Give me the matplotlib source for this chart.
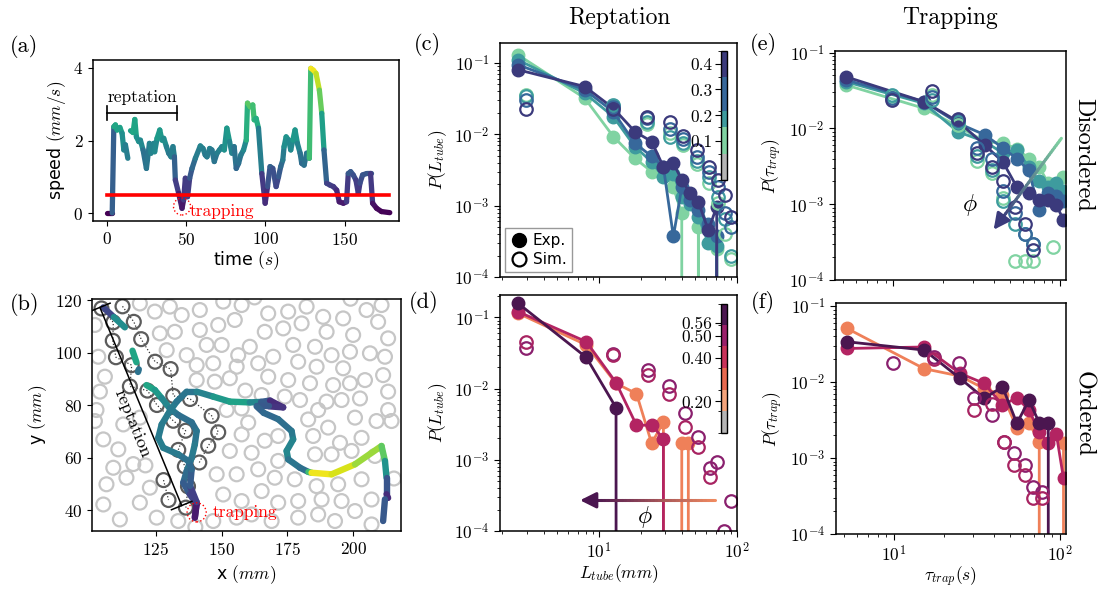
import numpy as np
import matplotlib
matplotlib.use('Agg')
import matplotlib.pyplot as plt
from matplotlib.collections import LineCollection
from matplotlib.colors import ListedColormap, BoundaryNorm, Normalize, to_rgba
import matplotlib.colorbar as mcolorbar
from matplotlib.lines import Line2D

plt.rcParams.update({
    'font.family': 'serif', 'font.serif': ['cmr10'], 'mathtext.fontset': 'cm',
    'axes.formatter.use_mathtext': True, 'font.size': 12.5, 'axes.linewidth': 1.1,
})

# ---------------- panel (a): speed vs time ----------------
time_a = [0, 3.6, 4.6, 5.6, 6.7, 8.4, 9.8, 10.9, 11.9, 13.4, 14.2, 15.1, 16.7, 17.8, 18.8, 20.3, 21.3, 23, 25.1, 27,
          28, 29.7, 30.3, 31.8, 33.5, 34.9, 36, 37.7, 39.1, 40.6, 41.8, 42.7, 43.3, 45.4, 47.5, 48.5, 49.6, 51, 52.3,
          53.8, 55.9, 59, 60.7, 62.1, 63.2, 64.9, 66.3, 67.8, 69.5, 71.1, 72.6, 74.1, 75.7, 77.4, 78.9, 80.3, 81.6,
          83.1, 84.5, 86.2, 87.9, 88.7, 90.4, 92, 92.9, 94.1, 95.6, 97.7, 99.8, 101.3, 102.9, 104.6, 106.7, 108.2,
          109.6, 110.9, 111.7, 113, 114.6, 115.9, 117.2, 118.6, 120.1, 121.8, 122.8, 124.3, 125.9, 127.6, 128.5,
          130.1, 131.8, 133.9, 135.4, 136.8, 138.5, 140.6, 142.7, 144.8, 146.4, 149, 151, 152.1, 153.6, 155.2,
          156.9, 158.4, 159.4, 161.1, 163.6, 166.1, 167.4, 169.9, 173, 178.2]
speed_a = [0, 0, 2.38, 2.43, 2.29, 2.36, 2.2, 1.74, 1.88, 1.51, np.nan, 2.27, 2.22, 2.58, 2.1, 1.97, 2.01, 1.74, 1.23,
           1.92, 1.65, 1.92, 1.69, 2.06, 2.29, 2.01, 2.06, 1.83, 1.65, 1.55, 1.83, 1.55, 0.91, 0.54, 0.13, 0.36, 0.96,
           0.45, 0.96, 1.23, 1.51, 1.85, 1.78, 1.6, 1.55, 1.78, 1.74, 1.42, 1.65, 1.74, 1.83, 1.74, 2.34, 1.97, 1.65,
           1.83, 1.23, 1.37, 1.6, 1.74, 2.01, 3.03, 2.93, 2.98, 2.57, 2.61, 2.34, 1.09, 0.27, 0.73, 1.28, 1.23, 0.73,
           1.0, 1.28, 1.46, 1.83, 2.1, 2.01, 1.74, 2.01, 2.29, 1.92, 1.65, 1.37, 1.32, 1.65, 1.51, 3.99, 3.94, 3.85,
           3.39, 2.75, 1.74, 0.82, 0.77, 0.73, 0.63, 0.31, 0.27, 0.31, 1.09, 1.14, 1.05, 0.91, 0.54, 0.82, 1.05,
           1.09, 1.09, 0.27, 0.13, 0.04, 0.01]
threshold_speed = 0.5
reptation_span = [0.4, 44.4]
trap_a = (47.5, 0.18)

# ---------------- panel (b): trajectory ----------------
traj_x = [105, 109, 113.2, np.nan, 116.1, 117.6, np.nan, 118.5, 118.2, np.nan,
          121.4, 124.6, 127.2, 130.3, 133.5, 138.6, 140.5, 139.8, 138.6, 136.7, 135.4, 137.9, 140.5, 139.8,
          140.5, 138, 138.6, 137.3, 133.5, 127.8, 125.9, 127.2, 130.3, 132.9, 136.7, 140.5, 146.8, 153.1, 160.7,
          165, 168.4, 173.4, 168, 163.3, 166, 171.5, 176.6, 177.2, 174.7, 175.3, 179.8, 183, 184.2, 191.8, 200.7,
          210.8, 212.1, 212.7, 212.7, 213.3, np.nan, 212.1, 211.4]
traj_y = [117.2, 113.5, 109.6, np.nan, 100.7, 96.3, np.nan, 93.6, 92.6, np.nan,
          87.6, 85.7, 82.6, 78.7, 76.2, 73.4, 70.1, 65, 59.9, 54.8, 50.4, 46, 42.2, 37.1,
          43, 49.2, 55.5, 58.7, 61.2, 63.7, 67.5, 72.6, 77.7, 81.3, 85.1, 85.1, 83.2, 81.3, 81.0,
          81.2, 81.7, 79.1, 79.5, 79.5, 77, 74.6, 70.1, 66.9, 62.5, 59.3, 56.1, 54.5, 54.2, 53.6, 57.4,
          64.4, 58.7, 52.3, 46.0, 44.6, np.nan, 44.1, 35.8]
traj_v = [0.2, 1.5, 2.4, np.nan, 2.5, 2.2, np.nan, 1.5, 1.5, np.nan,
          2.4, 2.3, 2.0, 1.7, 1.5, 1.4, 1.5, 1.6, 1.7, 1.5, 1.3, 1.0, 0.6, 0.1,
          0.5, 1.0, 1.3, 1.4, 1.6, 1.7, 1.7, 1.6, 1.7, 1.6, 1.5, 1.6, 1.9, 2.4, 2.2,
          1.5, 0.8, 0.2, 1.0, 1.2, 1.3, 1.4, 1.5, 1.7, 1.9, 1.8, 1.3, 1.6, 3.9, 3.9, 3.6,
          3.2, 2.8, 1.3, 0.8, 0.2, np.nan, 1.1, 1.1]

tube_left_x = [104.3, 108.8, 108.6, 109.8, 115.8, 115.1, 121.8, 125.4, 131.6, 136.3, 133.5, 136.0, 137.2, 136.4]
tube_left_y = [116.8, 111.5, 104.5, 98.2, 95.2, 87.1, 85.5, 80.0, 74.0, 70.2, 62.9, 56.6, 49.0, 40.9]
tube_right_x = [112.3, 116.6, 119.4, 124.7, 130.6, 131.6, 138.0, 146.2, 148.7, 144.9, 141.5]
tube_right_y = [117.6, 111.7, 105.1, 96.5, 93.7, 83.5, 82.3, 75.9, 69.6, 64.5, 58.1]
tube_extra_x = [127.9, 129.8]
tube_extra_y = [51.4, 43.8]

obst_x = [118.9, 124.6, 130.3, 134.8, 141.7, 150.6, 157.6, 155.0, 148.7, 141.7, 126.5, 132.2, 129.1, 136.7, 144.3,
          150.0, 156.3, 140.5, 146.8, 155.7, 105.6, 140.5, 147.4, 153.1, 103.7, 102.4, 151.9, 157.6, 103.1, 101.8,
          167.7, 175.3, 182.3, 188.6, 196.2, 205.1, 210.8, 166.4, 173.4, 180.4, 189.9, 200.0, 209.5, 213.3, 160.7,
          169.6, 177.2, 185.5, 191.8, 198.8, 206.4, 212.1, 163.9, 179.1, 186.1, 196.2, 167.7, 175.3, 183.6, 192.4,
          198.8, 204.5, 211.4, 165.2, 174.0, 179.8, 189.9, 195.6, 202.6, 213.3, 186.7, 213.3,
          182.9, 190.5, 200.7, 214.6, 208.9, 160.1, 171.5, 184.8, 195.0, 203.2, 185.5, 191.8, 199.4, 208.3, 161.4,
          166.4, 171.5, 163.9, 170.2, 177.8, 186.1, 194.3, 203.2, 215.5, 165.2, 179.1, 188.0, 195.6, 207.0, 171.5,
          179.1, 186.7, 193.1, 200.7, 207.0, 169.0, 161.4,
          105.0, 110.7, 108.8, 113.8, 106.2, 122.7, 105.0, 118.9, 111.3, 125.3, 133.5, 148.1, 153.1, 155.7, 150.6,
          157.6, 155.7, 146.8, 157.6, 118.9, 101.8, 112.6, 116.4, 159.0, 162.5, 199.0, 121.0, 140.0]
obst_y = [118.7, 115.6, 117.5, 114.3, 116.2, 119.4, 118.1, 112.4, 110.5, 108.6, 107.3, 107.9, 100.9, 99.0, 102.9,
          102.9, 99.0, 95.2, 95.9, 94.6, 90.8, 89.5, 88.9, 90.2, 85.1, 78.1, 78.1, 78.7, 98.4, 110.5,
          114.9, 115.6, 117.5, 113.6, 113.0, 116.2, 118.1, 107.9, 109.2, 111.1, 107.9, 106.7, 111.7, 105.4, 102.2,
          98.4, 102.9, 102.2, 99.0, 100.3, 99.7, 98.4, 95.9, 96.5, 94.6, 94.0, 90.8, 89.5, 88.3, 87.6,
          88.3, 89.5, 91.4, 83.8, 83.2, 81.9, 81.3, 81.9, 82.5, 85.1, 78.1, 78.1,
          74.5, 71.4, 75.2, 73.9, 73.9, 73.3, 68.2, 68.2, 65.6, 67.5, 61.2, 61.2, 62.5, 60.6, 61.8,
          66.4, 58.7, 55.5, 52.3, 51.7, 49.1, 49.8, 51.7, 52.0, 47.2, 43.4, 44.0, 43.4, 44.0, 42.8,
          37.1, 38.3, 35.8, 39.6, 34.5, 35.8, 38.3,
          66.9, 63.1, 56.1, 52.3, 49.8, 48.5, 42.1, 42.8, 36.4, 37.1, 35.8, 53.6, 62.5, 53.6, 45.9,
          43.4, 37.1, 35.8, 68.8, 75.2, 73.9, 72.6, 57.5, 85.5, 121.0, 120.5, 57.0, 33.5]
trap_b = (140.5, 39.1)
reptation_line_x = [103.7, 134.8]
reptation_line_y = [117.2, 41.7]

# ---------------- panel (c): L_tube, disordered ----------------
phi_dis = [0.1, 0.2, 0.3, 0.4]
col_dis = ['#80d3a2', '#3e9b9e', '#37689b', '#3b3a7c']
L_exp_c = [2.6, 7.9, 12.7, 18.2, 24.1, 29.3, 34.6, 39.8, 45.6, 52.5, 62, 71.3, 86.5]
Pc_exp_01 = [0.129, 0.032, 0.0093, 0.0046, 0.003, 0.0033, 0.0018, 0.00078, 0, 0.0005, 0, 0.00025, 0]
Pc_exp_02 = [0.11, 0.0376, 0.0177, 0.0067, 0.0041, 0.0025, 0.0028, 0.00133, 0.00107, 0.0007, 0.0003, 0.00027, 0]
Pc_exp_03 = [0.094, 0.042, 0.0207, 0.0075, 0.0049, 0.0035, 0.00037, 0.0018, 0.0012, 0.00087, 0.00056, 0.00037, 0]
Pc_exp_04 = [0.080, 0.0466, 0.0232, 0.0109, 0.0079, 0.0035, 0.0039, 0.0023, 0.0015, 0.00113, 0.00045, 0.00097, 0]
L_sim_c = [2.96, 12.7, 22.2, 32.7, 40.8, 51, 63, 73, 82, 91]
Pc_sim_01 = [0.035, 0.025, 0.014, 0.0105, 0.007, 0.0038, 0.0021, 0.0011, 0.0004, 0.00018]
Pc_sim_02 = [0.034, 0.026, 0.015, 0.0093, 0.0075, 0.0042, 0.0025, 0.0013, 0.00065, 0.0002]
Pc_sim_03 = [0.030, 0.024, 0.0168, 0.012, 0.0085, 0.0048, 0.003, 0.0018, 0.0008, 0.0005]
Pc_sim_04 = [0.0224, 0.0224, 0.0173, 0.015, 0.0095, 0.006, 0.0035, 0.0023, 0.0014, 0.0007]

# ---------------- panel (d): L_tube, ordered ----------------
col_ord_exp = ['#ef8059', '#b32462', '#4b1650']
L_exp_d = [2.6, 8.1, 13.3, 18.7, 24.1, 29.3, 34.6, 39.8, 44.4, 50.0]
Pd_exp_040 = [0.114, 0.041, 0.0118, 0.0085, 0.0017, 0.0034, 0, 0.0017, 0.0017, 0]
Pd_exp_050 = [0.12, 0.0455, 0.0121, 0.00306, 0.00306, 0.00199, 0]
Pd_exp_056 = [0.157, 0.0274, 0.0054, 0]
col_ord_sim = ['#8a206e', '#a82462']
L_sim_d = [2.96, 12.7, 22.7, 32.1, 42, 52.5, 63.7, 71.3, 81, 91]
Pd_sim_a = [0.0366, 0.031, 0.018, 0.0108, 0.0045, 0.0021, 0.00076, 0.00093, 0.0001, 0.00026]
Pd_sim_b = [0.0455, 0.030, 0.0155, 0.0085, 0.0029, 0.0015, 0.00058]

# ---------------- panel (e): tau_trap, disordered ----------------
tau_exp_e = [5.2, 15.3, 24.5, 35.5, 45.5, 55, 65, 75, 85, 95, 105]
Pe_exp_01 = [0.0374, 0.0184, 0.0106, 0.0067, 0.0064, 0.0054, 0.004, 0.0031, 0.0019, 0.0017, 0.0023]
Pe_exp_02 = [0.0413, 0.0214, 0.009, 0.0067, 0.0047, 0.0052, 0.0031, 0.002, 0.0017, 0.0019, 0.0015]
Pe_exp_03 = [0.0436, 0.0225, 0.0117, 0.0082, 0.0055, 0.004, 0.0028, 0.00083, 0.0014, 0.0013, 0.0011]
Pe_exp_04 = [0.048, 0.0225, 0.0123, 0.006, 0.0036, 0.0017, 0.0014, 0.00114, 0.00114, 0.00098, 0.00062]
tau_sim_e = [9.8, 17.0, 24.5, 31.6, 38.9, 45.7, 53.7, 61.7, 69.2, 91]
Pe_sim_01 = [0.027, 0.028, 0.011, 0.0037, 0.0026, 0.0012, 0.00018, 0.00018, 0.00018, 0.00027]
Pe_sim_02 = [0.0276, 0.024, 0.012, 0.0043, 0.0028, 0.0011, 0.00055, 0.0004, 0.0003, np.nan]
Pe_sim_03 = [0.025, 0.026, 0.013, 0.0055, 0.004, 0.0015, 0.00076, 0.0004, 0.0003, np.nan]
Pe_sim_04 = [0.024, 0.031, 0.0135, 0.0047, 0.0031, 0.002, 0.00093, 0.00055, 0.00025, np.nan]

# ---------------- panel (f): tau_trap, ordered ----------------
tau_exp_f = [5.2, 15.2, 25, 35, 45, 55, 65, 75, 85, 95, 105]
Pf_exp_040 = [0.051, 0.015, 0.012, 0.0082, 0.0068, 0.0025, 0.0029, 0.00164, 0, 0, 0.0016]
Pf_exp_050 = [0.0277, 0.029, 0.013, 0.0096, 0.005, 0.0062, 0.0043, 0.0022, 0.0016, 0.0021, 0.00054]
Pf_exp_056 = [0.034, 0.0264, 0.0112, 0.0061, 0.0087, 0.00286, 0.0058, 0.0029, 0.0029, 0]
tau_sim_f_a = [9.8, 17.4, 24.5, 30.2, 38.9, 45.7, 52.5, 61.7, 69.2, 77.6]
Pf_sim_a = [0.0176, 0.0215, 0.0176, 0.0061, 0.0037, 0.00164, 0.00115, 0.0008, 0.00042, 0.00036]
tau_sim_f_b = [17.4, 30.2, 38.9, 45.7, 52.5, 61.7, 69.2, 77.6]
Pf_sim_b = [0.02, 0.0043, 0.0052, 0.00164, 0.0008, 0.0006, 0.0003, 0.0003]

# colorbars
cb_colors_c = ['#b4b4b4', '#80d3a2', '#3e9b9e', '#37689b', '#3b3a7c']
cb_bounds_c = [-0.05, 0.05, 0.155, 0.215, 0.35, 0.45]
cb_ticks_c = [0.1, 0.2, 0.3, 0.4]
cb_colors_d = ['#b4b4b4', '#f4a47b', '#e8694f', '#c9325a', '#9a1f6a', '#4b1650']
cb_bounds_d = [0.054, 0.154, 0.254, 0.353, 0.453, 0.552, 0.649]
cb_ticks_d = [0.20, 0.40, 0.50, 0.56]

# ======================================================
W, H = 1098, 591
fig = plt.figure(figsize=(W / 100, H / 100), dpi=100)


def box(l, t, r, b):
    return [l / W, 1 - b / H, (r - l) / W, (b - t) / H]


def colored_line(ax, x, y, c, norm, cmap, lw):
    x = np.asarray(x, float); y = np.asarray(y, float); c = np.asarray(c, float)
    segs, cols = [], []
    for i in range(len(x) - 1):
        if np.isnan([x[i], x[i + 1], y[i], y[i + 1]]).any():
            continue
        segs.append([(x[i], y[i]), (x[i + 1], y[i + 1])])
        cols.append(0.5 * (c[i] + c[i + 1]))
    lc = LineCollection(segs, cmap=cmap, norm=norm, linewidths=lw, capstyle='round', joinstyle='round')
    lc.set_array(np.array(cols))
    ax.add_collection(lc)


def grad_arrow(ax, x0, y0, x1, y1, c0, c1, n=40, lw=2.2):
    xs = np.logspace(np.log10(x0), np.log10(x1), n)
    ys = np.logspace(np.log10(y0), np.log10(y1), n)
    a0 = np.array(to_rgba(c0)); a1 = np.array(to_rgba(c1))
    m = n - 4
    segs = [[(xs[i], ys[i]), (xs[i + 1], ys[i + 1])] for i in range(m)]
    cols = [tuple(a0 + (a1 - a0) * i / (m - 1)) for i in range(m)]
    ax.add_collection(LineCollection(segs, colors=cols, linewidths=lw, capstyle='round'), autolim=False)
    ax.annotate('', xy=(x1, y1), xytext=(xs[m - 1], ys[m - 1]),
                arrowprops=dict(arrowstyle='-|>', color=c1, lw=lw, mutation_scale=24, shrinkA=0, shrinkB=0))


cmap_v = plt.get_cmap('viridis')
norm_v = Normalize(0, 4)
sans = 'DejaVu Sans'

# ---- (a)
axa = fig.add_axes(box(93, 60, 399, 221))
colored_line(axa, time_a, speed_a, speed_a, norm_v, cmap_v, 3.8)
axa.plot([0, 178], [threshold_speed, threshold_speed], color='red', lw=2.6, zorder=3)
axa.plot(reptation_span, [2.77, 2.77], color='k', lw=1.2)
for xe in reptation_span:
    axa.plot([xe, xe], [2.57, 2.95], color='k', lw=1.2)
axa.text(np.mean(reptation_span), 2.98, 'reptation', ha='center', va='bottom', fontsize=12.5)
axa.scatter([trap_a[0]], [trap_a[1]], s=150, facecolors='none', edgecolors='red', linestyles=':', linewidths=1.0, zorder=4)
axa.text(52.5, 0.06, 'trapping', color='red', ha='left', va='center', fontsize=12.5)
axa.set_xlim(-8.5, 184)
axa.set_ylim(-0.22, 4.22)
axa.set_xticks([0, 50, 100, 150])
axa.set_yticks([0, 2, 4])
axa.set_xlabel('time $(s)$', family=sans, fontsize=12.5, labelpad=1)
axa.set_ylabel('speed $(mm/s)$', family=sans, fontsize=12.5)

# ---- (b)
axb = fig.add_axes(box(92, 299, 401, 531))
axb.scatter(obst_x, obst_y, s=100, facecolors='none', edgecolors='#c6c6c6', linewidths=1.6, zorder=1)
for tx, ty in [(tube_left_x, tube_left_y), (tube_right_x, tube_right_y), (tube_extra_x, tube_extra_y)]:
    axb.plot(tx, ty, ls=':', color='#333333', lw=0.9, zorder=2)
    axb.scatter(tx, ty, s=100, facecolors='none', edgecolors='#5c5c5c', linewidths=1.6, zorder=2)
colored_line(axb, traj_x, traj_y, traj_v, norm_v, cmap_v, 4.6)
axb.plot(reptation_line_x, reptation_line_y, color='k', lw=1.1, zorder=5)
dx = reptation_line_x[1] - reptation_line_x[0]; dy = reptation_line_y[1] - reptation_line_y[0]
ln = np.hypot(dx, dy); px, py = -dy / ln * 4.2, dx / ln * 4.2
for xe, ye in zip(reptation_line_x, reptation_line_y):
    axb.plot([xe - px, xe + px], [ye - py, ye + py], color='k', lw=1.1, zorder=5)
ang = np.degrees(np.arctan2(dy, dx))
axb.text(116.2, 73.0, 'reptation', rotation=ang, rotation_mode='anchor', ha='center', va='center', fontsize=13)
axb.scatter([trap_b[0]], [trap_b[1]], s=190, facecolors='none', edgecolors='red', linestyles=':', linewidths=1.0, zorder=6)
axb.text(146.5, 39.0, 'trapping', color='red', ha='left', va='center', fontsize=12.5)
axb.set_xlim(100.7, 218.2)
axb.set_ylim(32.0, 120.4)
axb.set_xticks([125, 150, 175, 200])
axb.set_yticks([40, 60, 80, 100, 120])
axb.set_xlabel('x $(mm)$', family=sans, fontsize=12.5)
axb.set_ylabel('y $(mm)$', family=sans, fontsize=12.5)

EXP = dict(marker='o', ms=9, lw=2.0)
SIM = dict(marker='o', ms=9, ls='none', mfc='none', mew=1.6)


def loglog_setup(ax):
    ax.set_xscale('log'); ax.set_yscale('log')
    ax.tick_params(which='major', length=4)
    ax.tick_params(which='minor', length=2.2)


# ---- (c)
axc = fig.add_axes(box(500, 43, 737, 277))
loglog_setup(axc)
for y, c in zip([Pc_exp_01, Pc_exp_02, Pc_exp_03, Pc_exp_04], col_dis):
    axc.plot(L_exp_c, y, color=c, mec=c, **EXP)
for y, c in zip([Pc_sim_01, Pc_sim_02, Pc_sim_03, Pc_sim_04], col_dis):
    axc.plot(L_sim_c, y, mec=c, **SIM)
axc.set_xlim(1.92, 100); axc.set_ylim(1e-4, 0.19)
axc.tick_params(labelbottom=False)
axc.set_ylabel('$P(L_{tube})$', fontsize=12.5)
leg = axc.legend(handles=[Line2D([], [], marker='o', ls='none', color='k', ms=10, label='Exp.'),
                          Line2D([], [], marker='o', ls='none', mfc='none', mec='k', mew=1.6, ms=10, label='Sim.')],
                 loc='lower left', prop={'family': sans, 'size': 11}, fancybox=False, edgecolor='#999999',
                 framealpha=1, borderpad=0.35, handletextpad=0.3, labelspacing=0.25, borderaxespad=0.3,
                 handlelength=1.2)

# ---- (d)
axd = fig.add_axes(box(500, 295, 737, 531))
loglog_setup(axd)
axd.plot(L_exp_d[:len(Pd_exp_040)], Pd_exp_040, color=col_ord_exp[0], mec=col_ord_exp[0], **EXP)
axd.plot(L_exp_d[:len(Pd_exp_050)], Pd_exp_050, color=col_ord_exp[1], mec=col_ord_exp[1], **EXP)
axd.plot(L_exp_d[:len(Pd_exp_056)], Pd_exp_056, color=col_ord_exp[2], mec=col_ord_exp[2], **EXP)
axd.plot(L_sim_d[:len(Pd_sim_a)], Pd_sim_a, mec=col_ord_sim[0], **SIM)
axd.plot(L_sim_d[:len(Pd_sim_b)], Pd_sim_b, mec=col_ord_sim[1], **SIM)
grad_arrow(axd, 69.7, 2.7e-4, 7.3, 2.7e-4, '#f08a60', '#4b1650')
axd.text(21.6, 1.55e-4, r'$\phi$', fontsize=17, ha='center', va='center')
axd.set_xlim(1.92, 100); axd.set_ylim(1e-4, 0.206)
axd.set_ylabel('$P(L_{tube})$', fontsize=12.5)
axd.set_xlabel('$L_{tube}(mm)$', fontsize=12.5, labelpad=0)

# ---- (e)
axe = fig.add_axes(box(835, 51, 1066, 280))
loglog_setup(axe)
for y, c in zip([Pe_exp_01, Pe_exp_02, Pe_exp_03, Pe_exp_04], col_dis):
    axe.plot(tau_exp_e, y, color=c, mec=c, **EXP)
for y, c in zip([Pe_sim_01, Pe_sim_02, Pe_sim_03, Pe_sim_04], col_dis):
    axe.plot(tau_sim_e, y, mec=c, **SIM)
grad_arrow(axe, 102, 7.4e-3, 40, 4.6e-4, '#80d3a2', '#3b3a7c')
axe.text(28.8, 9.8e-4, r'$\phi$', fontsize=17, ha='center', va='center')
axe.set_xlim(4.47, 108.7); axe.set_ylim(1e-4, 0.105)
axe.tick_params(labelbottom=False)
axe.set_ylabel(r'$P(\tau_{trap})$', fontsize=12.5)

# ---- (f)
axf = fig.add_axes(box(836, 303, 1066, 534))
loglog_setup(axf)
axf.plot(tau_exp_f[:len(Pf_exp_040)], Pf_exp_040, color=col_ord_exp[0], mec=col_ord_exp[0], **EXP)
axf.plot(tau_exp_f[:len(Pf_exp_050)], Pf_exp_050, color=col_ord_exp[1], mec=col_ord_exp[1], **EXP)
axf.plot(tau_exp_f[:len(Pf_exp_056)], Pf_exp_056, color=col_ord_exp[2], mec=col_ord_exp[2], **EXP)
axf.plot(tau_sim_f_a, Pf_sim_a, mec=col_ord_sim[0], **SIM)
axf.plot(tau_sim_f_b, Pf_sim_b, mec=col_ord_sim[1], **SIM)
axf.set_xlim(4.47, 108.7); axf.set_ylim(1e-4, 0.11)
axf.set_ylabel(r'$P(\tau_{trap})$', fontsize=12.5)
axf.set_xlabel(r'$\tau_{trap}(s)$', fontsize=12.5, labelpad=0)

# ---- colorbars
for (l, t, r, b), cols, bnds, tks, fmt in [((720.7, 50.7, 727, 180), cb_colors_c, cb_bounds_c, cb_ticks_c, '%.1f'),
                                           ((720.7, 304, 727, 433), cb_colors_d, cb_bounds_d, cb_ticks_d, '%.2f')]:
    cax = fig.add_axes(box(l, t, r, b))
    cmap = ListedColormap(cols)
    cb = mcolorbar.ColorbarBase(cax, cmap=cmap, norm=BoundaryNorm(bnds, cmap.N), ticks=tks,
                                spacing='proportional', orientation='vertical')
    cax.yaxis.set_ticks_position('left')
    cb.set_ticklabels([fmt % v for v in tks])
    cax.tick_params(length=4, labelsize=12.5, pad=2)
    cb.outline.set_linewidth(1.0)

# ---- texts
for lab, (x, y) in zip(['(a)', '(b)', '(c)', '(d)', '(e)', '(f)'],
                       [(24, 46), (25, 305), (427, 44), (424, 302), (763, 44), (763, 302)]):
    fig.text(x / W, 1 - y / H, lab, ha='center', va='center', fontsize=16)
fig.text(619 / W, 1 - 18 / H, 'Reptation', ha='center', va='center', fontsize=17)
fig.text(950 / W, 1 - 18 / H, 'Trapping', ha='center', va='center', fontsize=17)
fig.text(1083 / W, 1 - 155 / H, 'Disordered', rotation=270, ha='center', va='center', fontsize=17.5)
fig.text(1083 / W, 1 - 414 / H, 'Ordered', rotation=270, ha='center', va='center', fontsize=17.5)

fig.savefig('out.png', dpi=100)
